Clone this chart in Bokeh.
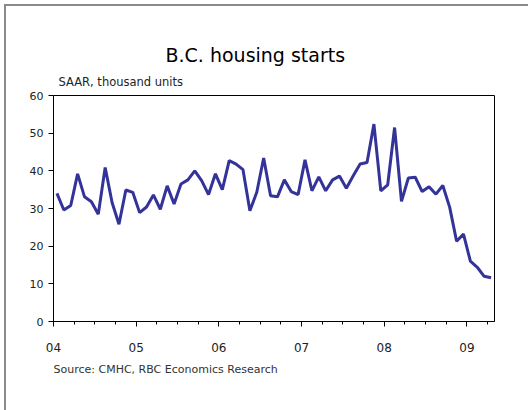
import pandas as pd
from bokeh.plotting import figure
from bokeh.models import Title, FixedTicker, Range1d, ColumnDataSource
from bokeh.embed import file_html
from bokeh.resources import INLINE

# Monthly B.C. housing starts, SAAR, thousand units (Jan 2004 - Apr 2009)
months = pd.date_range("2004-01-01", periods=64, freq="MS")
starts = [
    34.0, 29.6, 30.8, 39.2, 33.1, 31.8, 28.5, 40.9, 31.6, 25.8, 34.9, 34.3,
    28.9, 30.4, 33.6, 29.8, 36.0, 31.2, 36.5, 37.6, 40.0, 37.4, 33.7, 39.2,
    35.0, 42.7, 41.8, 40.3, 29.4, 34.3, 43.4, 33.4, 33.1, 37.6, 34.5, 33.7,
    42.9, 34.7, 38.4, 34.7, 37.6, 38.6, 35.4, 38.7, 41.8, 42.2, 52.4, 34.7,
    36.3, 51.5, 31.9, 38.1, 38.3, 34.5, 35.8, 33.8, 36.1, 30.3, 21.3, 23.2,
    16.0, 14.4, 12.0, 11.6,
]
year_ticks = [2004, 2005, 2006, 2007, 2008, 2009]
year_labels = ["04", "05", "06", "07", "08", "09"]
y_ticks = [0, 10, 20, 30, 40, 50, 60]

title_text = "B.C. housing starts"
subtitle_text = "SAAR, thousand units"
source_text = "Source: CMHC, RBC Economics Research"

# position each monthly point in the middle of its month (decimal years)
xpos = [m.year + (m.month - 0.5) / 12 for m in months]
src = ColumnDataSource(dict(x=xpos, y=starts))

FONT = "DejaVu Sans"

p = figure(
    width=528, height=410,
    output_backend="svg", toolbar_location=None,
    x_range=Range1d(2004, 2004 + len(months) / 12),
    y_range=Range1d(0, 60),
    min_border_left=53, min_border_right=34,
    min_border_top=95, min_border_bottom=89,
)
p.grid.visible = False
p.outline_line_color = "black"
p.outline_line_width = 1
p.background_fill_color = "white"
p.border_fill_alpha = 0

p.line("x", "y", source=src, line_color="#333399", line_width=3)

minor = [2004 + q / 4 for q in range(0, 22)]
xa = p.xaxis[0]
xa.ticker = FixedTicker(ticks=year_ticks, minor_ticks=minor)
xa.major_label_overrides = {t: l for t, l in zip(year_ticks, year_labels)}
xa.major_tick_in = 0
xa.major_tick_out = 5
xa.minor_tick_in = 0
xa.minor_tick_out = 3
xa.axis_line_color = "black"
xa.major_tick_line_color = "black"
xa.minor_tick_line_color = "black"
xa.major_label_text_font = FONT
xa.major_label_text_font_size = "12px"
xa.major_label_text_color = "#222222"
xa.major_label_standoff = 16

ya = p.yaxis[0]
ya.ticker = FixedTicker(ticks=y_ticks, minor_ticks=[])
ya.major_tick_in = 0
ya.major_tick_out = 5
ya.axis_line_color = "black"
ya.major_tick_line_color = "black"
ya.major_label_text_font = FONT
ya.major_label_text_font_size = "11px"
ya.major_label_text_color = "#222222"
ya.major_label_standoff = 5

sub = Title(text=subtitle_text, align="left", offset=5, standoff=14, text_font=FONT,
            text_font_size="11.5px", text_font_style="normal", text_color="#222222")
main = Title(text=title_text, align="left", offset=112, standoff=0, text_font=FONT,
             text_font_size="19px", text_font_style="normal", text_color="black")
p.add_layout(sub, "above")
p.add_layout(main, "above")

source = Title(text=source_text, align="left", offset=0, standoff=13, text_font=FONT,
               text_font_size="11px", text_font_style="normal", text_color="#333333")
p.add_layout(source, "below")

# outer grey frame of the chart image (top and left edges)
p.styles = {
    "background-color": "white",
    "box-shadow": "inset 4px 4px 0 0 white, inset 6px 6px 0 0 #8a8a8a",
}

open("out.html", "w").write(file_html(p, INLINE))
